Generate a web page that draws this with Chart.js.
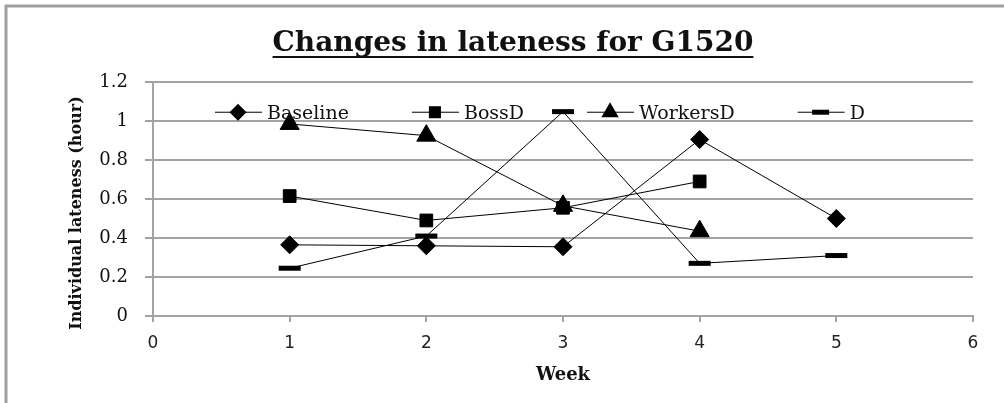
<!DOCTYPE html>
<html>
<head>
<meta charset="utf-8">
<script src="https://cdn.jsdelivr.net/npm/chart.js@4.4.1/dist/chart.umd.min.js"></script>
<style>
  html, body { margin: 0; padding: 0; background: #fff; overflow: hidden; }
  #chartBox { width: 1004px; height: 403px; }
  #latenessChart { display: block; }
</style>
</head>
<body>
<div id="chartBox"><canvas id="latenessChart" width="1004" height="403"></canvas></div>
<script>
// Values
const weeks = [1, 2, 3, 4, 5];
const seriesNames = ['Baseline', 'BossD', 'WorkersD', 'D'];
const baseline = [0.365, 0.36, 0.355, 0.905, 0.50];
const bossD = [0.615, 0.49, 0.555, 0.69, null];
const workersD = [0.985, 0.925, 0.565, 0.435, null];
const dOnly = [0.245, 0.41, 1.048, 0.27, 0.31];
const yTicks = [0, 0.2, 0.4, 0.6, 0.8, 1, 1.2];
const xTicks = [0, 1, 2, 3, 4, 5, 6];
const chartTitle = 'Changes in lateness for G1520';
const xTitle = 'Week';
const yTitle = 'Individual lateness (hour)';

const markerStyles = ['rectRot', 'rect', 'triangle', 'line'];
const markerRadius = [9, 9, 11, 11];
const gridGray = '#a3a3a3';
const serif = '"DejaVu Serif", serif';

// Turn a week/value list into {x, y} points, skipping missing weeks
function toPoints(values) {
    return weeks
        .map((w, i) => ({ x: w, y: values[i] }))
        .filter(p => p.y !== null);
}

function buildDataset(name, values, idx) {
    const style = markerStyles[idx];
    return {
        label: name,
        data: toPoints(values),
        borderColor: '#000',
        borderWidth: 1,
        backgroundColor: '#000',
        pointStyle: style,
        pointRadius: markerRadius[idx],
        pointBackgroundColor: '#000',
        pointBorderColor: '#000',
        pointBorderWidth: style === 'line' ? 5 : 1,
        tension: 0
    };
}

// Small marker painter for the legend (same shapes as the series)
function drawMarker(ctx, style, x, y, r) {
    ctx.save();
    ctx.fillStyle = '#000';
    ctx.strokeStyle = '#000';
    ctx.beginPath();
    if (style === 'rectRot') {
        ctx.moveTo(x, y - r); ctx.lineTo(x + r, y); ctx.lineTo(x, y + r); ctx.lineTo(x - r, y);
        ctx.closePath(); ctx.fill();
    } else if (style === 'rect') {
        const s = r * Math.SQRT1_2;
        ctx.rect(x - s, y - s, 2 * s, 2 * s); ctx.fill();
    } else if (style === 'triangle') {
        ctx.moveTo(x, y - r);
        ctx.lineTo(x + r * 0.866, y + r * 0.5);
        ctx.lineTo(x - r * 0.866, y + r * 0.5);
        ctx.closePath(); ctx.fill();
    } else {
        ctx.lineWidth = 5;
        ctx.moveTo(x - r, y); ctx.lineTo(x + r, y); ctx.stroke();
    }
    ctx.restore();
}

// Frame, title, y title and the in-plot legend
const decorPlugin = {
    id: 'decor',
    beforeDraw(chart) {
        const ctx = chart.ctx;
        ctx.save();
        ctx.fillStyle = '#fff';
        ctx.fillRect(0, 0, chart.width, chart.height);
        // only the top and left edges of the frame are inside the picture
        ctx.strokeStyle = '#a0a0a0';
        ctx.lineWidth = 3;
        ctx.beginPath();
        ctx.moveTo(6, 1200);
        ctx.lineTo(6, 6);
        ctx.lineTo(1200, 6);
        ctx.stroke();
        ctx.restore();
    },
    afterDraw(chart) {
        const ctx = chart.ctx;
        ctx.save();

        // 1. Underlined title
        ctx.font = 'bold 28px ' + serif;
        ctx.fillStyle = '#111';
        ctx.textAlign = 'center';
        ctx.textBaseline = 'alphabetic';
        const tx = 513, ty = 51;
        ctx.fillText(chartTitle, tx, ty);
        const tw = ctx.measureText(chartTitle).width;
        ctx.fillRect(tx - tw / 2, 56, tw, 2);

        // 2. Rotated y axis title
        ctx.save();
        ctx.translate(77, 213);
        ctx.rotate(-Math.PI / 2);
        ctx.font = 'bold 16px ' + serif;
        ctx.textBaseline = 'middle';
        ctx.fillText(yTitle, 0, 0);
        ctx.restore();

        // 3. Legend laid out in a row inside the plot
        const ly = chart.scales.y.getPixelForValue(1.045);
        let lx = 215;
        ctx.font = '19px ' + serif;
        ctx.textAlign = 'left';
        ctx.textBaseline = 'middle';
        chart.data.datasets.forEach((ds, i) => {
            ctx.strokeStyle = '#000';
            ctx.lineWidth = 1;
            ctx.beginPath();
            ctx.moveTo(lx, ly);
            ctx.lineTo(lx + 47, ly);
            ctx.stroke();
            drawMarker(ctx, markerStyles[i], lx + 23, ly, markerStyles[i] === 'triangle' ? 10 : 8.5);
            ctx.fillStyle = '#111';
            ctx.fillText(ds.label, lx + 52, ly + 2);
            lx += 52 + ctx.measureText(ds.label).width + 63;
        });
        ctx.restore();
    }
};

const ctx = document.getElementById('latenessChart').getContext('2d');
const allSeries = [baseline, bossD, workersD, dOnly];

window.latenessChart = new Chart(ctx, {
    type: 'line',
    data: {
        datasets: seriesNames.map((n, i) => buildDataset(n, allSeries[i], i))
    },
    options: {
        responsive: false,
        animation: false,
        devicePixelRatio: 1,
        layout: { padding: { top: 82, right: 31, bottom: 0, left: 0 } },
        plugins: {
            legend: { display: false },
            title: { display: false },
            tooltip: { enabled: false }
        },
        scales: {
            x: {
                type: 'linear',
                min: xTicks[0],
                max: xTicks[xTicks.length - 1],
                afterBuildTicks: s => { s.ticks = xTicks.map(v => ({ value: v })); },
                afterFit: s => { s.height = 87; },
                ticks: {
                    color: '#222',
                    font: { family: '"DejaVu Sans", sans-serif', size: 17 },
                    padding: 11
                },
                grid: {
                    drawOnChartArea: false,
                    drawTicks: true,
                    tickLength: 6,
                    color: gridGray,
                    lineWidth: 2
                },
                border: { color: gridGray, width: 2 },
                title: {
                    display: true,
                    text: xTitle,
                    color: '#111',
                    font: { family: serif, size: 18, weight: 'bold' },
                    padding: { top: 4, bottom: 17 }
                }
            },
            y: {
                min: yTicks[0],
                max: yTicks[yTicks.length - 1],
                afterBuildTicks: s => { s.ticks = yTicks.map(v => ({ value: v })); },
                afterFit: s => { s.width = 153; },
                ticks: {
                    color: '#111',
                    font: { family: serif, size: 18 },
                    padding: 17,
                    callback: v => String(Number(v.toFixed(1)))
                },
                grid: {
                    color: gridGray,
                    lineWidth: 2,
                    tickLength: 8
                },
                border: { color: gridGray, width: 2 }
            }
        }
    },
    plugins: [decorPlugin]
});
</script>
</body>
</html>
